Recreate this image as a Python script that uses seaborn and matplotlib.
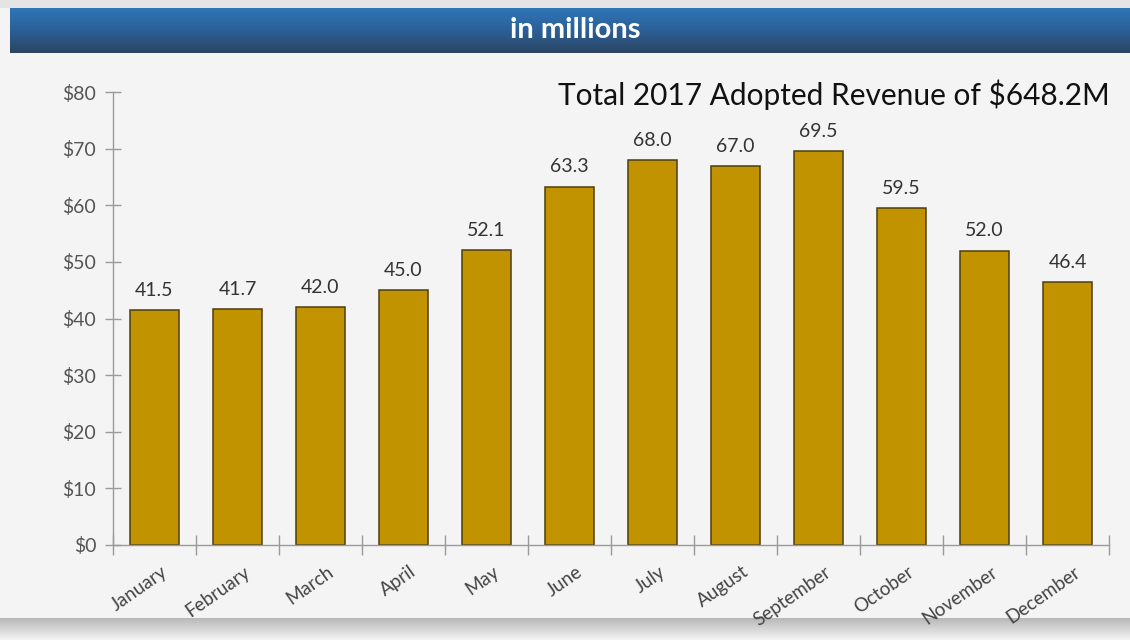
import numpy as np
import pandas as pd
import matplotlib
matplotlib.use("Agg")
import matplotlib.pyplot as plt
import seaborn as sns
from matplotlib import transforms
from matplotlib.colors import LinearSegmentedColormap

months = ["January", "February", "March", "April", "May", "June", "July",
          "August", "September", "October", "November", "December"]
revenue = [41.5, 41.7, 42.0, 45.0, 52.1, 63.3, 68.0, 67.0, 69.5, 59.5, 52.0, 46.4]
y_ticks = [0, 10, 20, 30, 40, 50, 60, 70, 80]
y_tick_labels = ["$0", "$10", "$20", "$30", "$40", "$50", "$60", "$70", "$80"]
header = "in millions"
title = "Total 2017 Adopted Revenue of $648.2M"

sns.set_theme(style="white")
plt.rcParams['font.family'] = ['Lato', 'DejaVu Sans']

df = pd.DataFrame({"month": months, "revenue": revenue})

fig = plt.figure(figsize=(11.3, 6.4), dpi=100)
fig.patch.set_facecolor("#f4f4f4")

# header band gradient
hax = fig.add_axes([10/1130, 1-53/640, 1120/1130, 45/640])
grad = np.linspace(0, 1, 100).reshape(-1, 1)
cmap = LinearSegmentedColormap.from_list("hdr", ["#2F76B8", "#2B5F97", "#2C4562"])
hax.imshow(grad, aspect="auto", cmap=cmap, extent=[0, 1, 0, 1])
hax.set_axis_off()
hax.text(0.505, 0.5, header, color="white", fontsize=21, fontweight="bold",
         ha="center", va="center", transform=hax.transAxes)

# top strip above header
tax = fig.add_axes([0, 1-8/640, 1, 8/640])
tax.set_axis_off()
tax.add_patch(plt.Rectangle((0, 0), 1, 1, color="#e4e4e4", transform=tax.transAxes))

# bottom shadow
bax = fig.add_axes([0, 0, 1, 22/640])
sh = np.linspace(1, 0, 50).reshape(-1, 1)
shcmap = LinearSegmentedColormap.from_list("sh", ["#f4f4f4", "#b8b8b8"])
bax.imshow(sh, aspect="auto", cmap=shcmap, extent=[0, 1, 0, 1])
bax.set_axis_off()

ax = fig.add_axes([113/1130, 1-545/640, (1109-113)/1130, (545-92)/640])
ax.set_facecolor("none")
sns.barplot(data=df, x="month", y="revenue", ax=ax, color="#C29300",
            saturation=1, width=0.59, edgecolor="#4d3d12", linewidth=1.1)

ax.set_xlim(-0.5, len(months) - 0.5)
ax.set_ylim(0, 80)
ax.set_yticks(y_ticks)
ax.set_yticklabels(y_tick_labels)
ax.set_xlabel("")
ax.set_ylabel("")

for s in ["top", "right"]:
    ax.spines[s].set_visible(False)
for s in ["left", "bottom"]:
    ax.spines[s].set_color("#9a9a9a")
    ax.spines[s].set_linewidth(1)

# x ticks at category boundaries
ax.set_xticks(np.arange(-0.5, len(months), 1.0), minor=False)
ax.set_xticklabels([""] * (len(months) + 1))
ax.set_xticks(np.arange(len(months)), minor=True)
ax.set_xticklabels(months, minor=True, rotation=35, ha="right",
                   rotation_mode="anchor", fontsize=13.5, color="#444444")
ax.tick_params(axis="x", which="major", bottom=True, direction="inout",
               length=14, color="#9a9a9a", width=1)
ax.tick_params(axis="x", which="minor", bottom=True, length=0, pad=13)
ax.tick_params(axis="y", left=True, direction="inout", length=12,
               color="#9a9a9a", width=1, labelsize=14, labelcolor="#555555",
               pad=6)

offset = transforms.ScaledTranslation(6/100, 0, fig.dpi_scale_trans)
for lbl in ax.get_xticklabels(minor=True):
    lbl.set_transform(lbl.get_transform() + offset)

for c in ax.containers:
    ax.bar_label(c, labels=[f"{v:.1f}" for v in revenue], padding=8,
                 fontsize=14, color="#333333")

fig.text(1110/1130, 1-95/640, title, ha="right", va="center", fontsize=21.5,
         color="#111111")

fig.savefig("out.png", dpi=100, facecolor=fig.get_facecolor())
